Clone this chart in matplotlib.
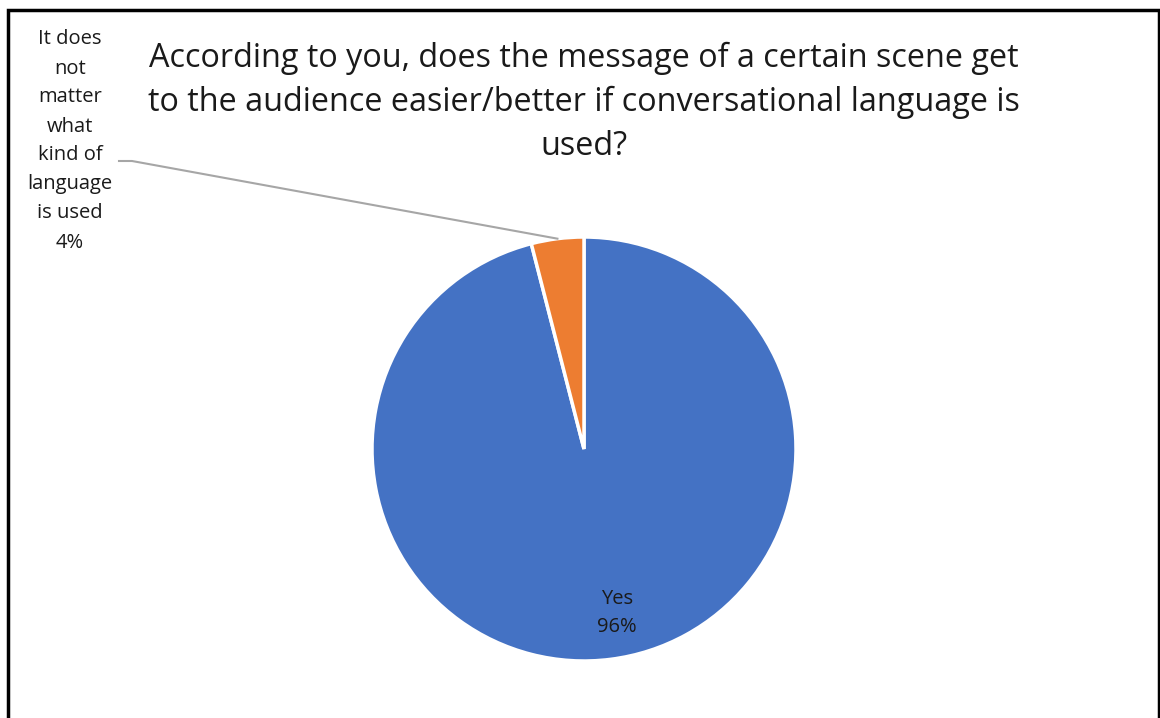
import numpy as np
import matplotlib.pyplot as plt
from matplotlib.patches import Rectangle

plt.rcParams['font.family'] = ['Open Sans', 'DejaVu Sans']

categories = ['Yes', 'It does\nnot\nmatter\nwhat\nkind of\nlanguage\nis used']
values = [96, 4]
colors = ['#4472C4', '#ED7D31']
title = ('According to you, does the message of a certain scene get\n'
         'to the audience easier/better if conversational language is\n'
         'used?')

W, H = 1160, 718
fig = plt.figure(figsize=(W / 100, H / 100), dpi=100)
ax = fig.add_axes([0, 0, 1, 1])

cx, cy, r = 584, H - 449, 212
wedges, _ = ax.pie(values, colors=colors, startangle=90, counterclock=False,
                   center=(cx, cy), radius=r,
                   wedgeprops=dict(edgecolor='white', linewidth=2.5))
ax.set_xlim(0, W)
ax.set_ylim(0, H)
ax.set_aspect('equal')
ax.axis('off')

# label inside the big slice
w = wedges[0]
mid = np.deg2rad((w.theta1 + w.theta2) / 2)
ax.text(cx + 0.8 * r * np.cos(mid) + 12, cy + 0.78 * r * np.sin(mid),
        f'{categories[0]}\n{values[0]}%', ha='center', va='center',
        fontsize=14.5, linespacing=1.55, color='#1a1a1a')

# outside label with leader line for the small slice
w = wedges[1]
mid = np.deg2rad((w.theta1 + w.theta2) / 2)
ex, ey = cx + r * np.cos(mid), cy + r * np.sin(mid)
ax.plot([119, 132, ex], [H - 161, H - 161, ey], color='#a6a6a6', lw=1.5)
ax.text(70, H - 141, f'{categories[1]}\n{values[1]}%', ha='center', va='center',
        fontsize=14.5, linespacing=1.6, color='#1a1a1a')

ax.text(584, H - 102, title, ha='center', va='center', fontsize=23.3,
        linespacing=1.43, color='#1a1a1a')

# chart frame
fig.patches.append(Rectangle((8, -10), 1151, H, transform=None, fill=False,
                             edgecolor='black', linewidth=2.5))

fig.savefig('out.png', dpi=100)
